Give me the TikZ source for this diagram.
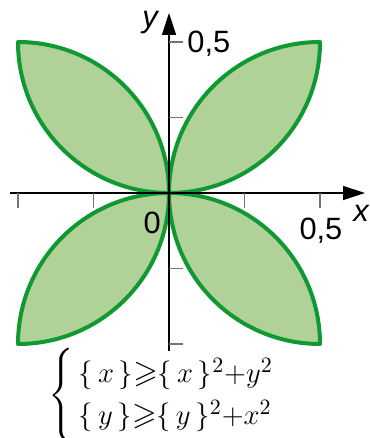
\documentclass[tikz,border=0pt]{standalone}
\usepackage{amsmath,amssymb}
\usepackage{fontspec}
\setmainfont{Liberation Sans}
\usepackage{xcolor}
\usetikzlibrary{arrows.meta}
\definecolor{petalfill}{RGB}{176,210,152}
\definecolor{petalgreen}{RGB}{16,152,50}
\begin{document}
\begin{tikzpicture}[
    x=151pt, y=151pt,
    petal/.style={draw=petalgreen, fill=petalfill, line width=2pt, line join=round},
    axis/.style={line width=0.65pt, -{Triangle[length=11pt, width=7pt]}},
    tickmark/.style={line width=0.7pt, draw=black!55},
    lbl/.style={font=\fontsize{15.4}{18}\selectfont, inner sep=0pt}
]
\useasboundingbox (-0.5596,-0.8113) rectangle (0.6623,0.639);
\foreach \sx in {1,-1}
  \foreach \sy in {1,-1}
    \draw[petal, xscale=\sx, yscale=\sy] (0,0) arc[start angle=180, end angle=90, radius=0.5]
      arc[start angle=0, end angle=-90, radius=0.5] -- cycle;
\coordinate (xstart) at (-0.526,0);
\coordinate (xend) at (0.649,0);
\coordinate (ystart) at (0,-0.523);
\coordinate (yend) at (0,0.596);
\draw[axis] (xstart) -- (xend);
\draw[axis] (ystart) -- (yend);
\foreach \t in {-0.5,-0.25,0.25,0.5} {
  \draw[tickmark] (\t,0) -- ++(0,-0.05);
  \draw[tickmark] (0,\t) -- ++(0.047,0);
}
\node[lbl] (ylabel) at (-0.063,0.563) {\itshape y};
\node[lbl] (xlabel) at (0.636,-0.066) {\itshape x};
\node[lbl] (origin) at (-0.056,-0.099) {0};
\node[lbl] (yhalf) at (0.132,0.493) {0,5};
\node[lbl] (xhalf) at (0.503,-0.126) {0,5};
\node[anchor=west, inner sep=0pt, font=\fontsize{15.8}{21}\selectfont] (system) at (-0.40,-0.668)
  {$\left\{\rule[-20pt]{0pt}{48pt}\begin{array}{@{\,}l@{}}
    \{\,x\,\}{\geqslant}\{\,x\,\}^2{+}y^2\\
    \{\,y\,\}{\geqslant}\{\,y\,\}^2{+}x^2
  \end{array}\right.$};
\end{tikzpicture}
\end{document}
